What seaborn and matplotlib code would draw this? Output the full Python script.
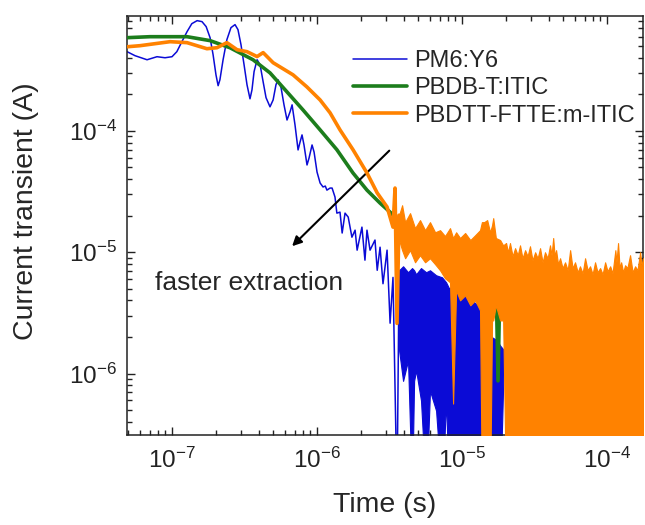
import matplotlib
matplotlib.use("Agg")
import matplotlib.pyplot as plt
import seaborn as sns
import pandas as pd

# PM6:Y6 (blue) - ringing decay
pm6_t = [4.90e-8, 5.56e-8, 6.73e-8, 7.88e-8, 8.95e-8, 1.0e-7, 1.08e-7, 1.17e-7, 1.27e-7, 1.37e-7,
         1.49e-7, 1.61e-7, 1.72e-7, 1.83e-7, 1.92e-7, 2.01e-7, 2.08e-7, 2.14e-7, 2.25e-7, 2.39e-7,
         2.55e-7, 2.72e-7, 2.85e-7, 2.99e-7, 3.14e-7, 3.29e-7, 3.45e-7, 3.56e-7, 3.68e-7, 3.86e-7,
         4.05e-7, 4.25e-7, 4.45e-7, 4.74e-7, 4.98e-7, 5.21e-7, 5.38e-7, 5.65e-7, 5.92e-7, 6.21e-7,
         6.52e-7, 6.73e-7, 7.05e-7, 7.40e-7, 7.64e-7, 7.88e-7, 8.13e-7, 8.53e-7, 8.81e-7, 9.24e-7,
         9.54e-7, 1.0e-6, 1.05e-6, 1.10e-6, 1.14e-6, 1.17e-6, 1.23e-6, 1.27e-6, 1.33e-6, 1.37e-6,
         1.44e-6, 1.49e-6, 1.56e-6, 1.64e-6, 1.74e-6, 1.83e-6, 1.89e-6, 2.04e-6, 2.14e-6, 2.21e-6,
         2.32e-6, 2.51e-6, 2.6e-6, 2.72e-6, 2.85e-6, 3.04e-6, 3.19e-6, 3.34e-6, 3.56e-6, 3.68e-6]
pm6_i = [4.50e-4, 4.17e-4, 3.86e-4, 4.09e-4, 4.01e-4, 4.09e-4, 4.50e-4, 5.44e-4, 6.58e-4, 7.66e-4,
         8.11e-4, 7.96e-4, 7.24e-4, 5.87e-4, 4.25e-4, 2.90e-4, 2.36e-4, 2.64e-4, 3.86e-4, 5.65e-4,
         7.10e-4, 7.52e-4, 6.84e-4, 5.14e-4, 3.51e-4, 2.40e-4, 1.84e-4, 2.18e-4, 3.08e-4, 3.86e-4,
         3.51e-4, 2.54e-4, 1.88e-4, 1.58e-4, 1.80e-4, 2.40e-4, 2.64e-4, 2.27e-4, 1.64e-4, 1.23e-4,
         1.44e-4, 1.64e-4, 1.12e-4, 6.97e-5, 8.11e-5, 9.27e-5, 7.66e-5, 5.24e-5, 5.98e-5, 7.66e-5,
         6.70e-5, 4.58e-5, 3.72e-5, 3.45e-5, 3.51e-5, 3.25e-5, 3.38e-5, 3.38e-5, 2.85e-5, 2.1e-5,
         2.14e-5, 1.44e-5, 2.1e-5, 1.95e-5, 1.33e-5, 1.52e-5, 1.04e-5, 1.61e-5, 8.6e-6, 1.52e-5,
         1.04e-5, 1.26e-5, 7.1e-6, 1.1e-5, 5.5e-6, 1.04e-5, 2.6e-6, 6.2e-6, 1e-7, 7.1e-6]
# PM6:Y6 dense noisy tail: upper / lower edge of the scribble (1e-7 = below the axis)
pm6_band_t = [3.68e-6, 3.92e-6, 4.24e-6, 4.52e-6, 4.67e-6, 4.82e-6, 5.21e-6, 5.65e-6, 6.01e-6, 6.62e-6,
              7.28e-6, 7.76e-6, 8.13e-6, 8.95e-6, 9.69e-6, 1.07e-5, 1.17e-5, 1.29e-5, 1.35e-5, 1.42e-5,
              1.51e-5, 1.61e-5, 1.74e-5, 1.83e-5, 1.95e-5]
pm6_band_hi = [7.1e-6, 7.66e-6, 6.84e-6, 7.4e-6, 7.1e-6, 6.58e-6, 7.4e-6, 6.84e-6, 7.1e-6, 6.46e-6,
               6.21e-6, 5.65e-6, 5.04e-6, 5.33e-6, 4.85e-6, 4.67e-6, 4.01e-6, 3.65e-6, 3.32e-6, 2.74e-6,
               2.27e-6, 1.99e-6, 1.88e-6, 1.7e-6, 1.55e-6]
pm6_band_lo = [1.55e-6, 8.7e-7, 1.28e-6, 1e-7, 8.7e-7, 1.06e-6, 6.0e-7, 1e-7, 7.2e-7, 4.95e-7,
               1e-7, 6.0e-7, 1e-7, 1e-7, 1e-7, 1e-7, 1e-7, 1e-7, 1e-7, 1e-7,
               1e-7, 1e-7, 1e-7, 1e-7, 1.55e-6]

# PBDB-T:ITIC (green)
pbdb_t = [4.9e-8, 7.05e-8, 1.27e-7, 1.83e-7, 2.51e-7, 3.62e-7, 4.74e-7, 6.2e-7, 8.0e-7, 1.05e-6,
          1.37e-6, 1.77e-6, 2.21e-6, 2.72e-6, 3.19e-6, 3.73e-6, 5.13e-6, 8.26e-6, 1.33e-5, 1.71e-5,
          1.77e-5, 1.83e-5, 2.51e-5, 6.5e-5, 1.77e-4]
pbdb_i = [5.87e-4, 5.98e-4, 5.98e-4, 5.55e-4, 4.85e-4, 3.86e-4, 3.01e-4, 2.1e-4, 1.49e-4, 1.02e-4,
          7.0e-5, 4.5e-5, 3.25e-5, 2.54e-5, 2.14e-5, 1.77e-5, 1.38e-5, 1.04e-5, 8.26e-6, 7.4e-6,
          8.7e-7, 7.1e-6, 5.87e-6, 4.85e-6, 4.41e-6]

# PBDTT-FTTE:m-ITIC (orange)
fte_t = [4.9e-8, 6.0e-8, 9.7e-8, 1.27e-7, 1.74e-7, 2.04e-7, 2.39e-7, 2.81e-7, 3.29e-7, 3.86e-7,
         4.25e-7, 4.98e-7, 6.83e-7, 8.5e-7, 1.05e-6, 1.23e-6, 1.44e-6, 1.77e-6, 2.21e-6, 2.6e-6,
         3.04e-6, 3.34e-6, 3.45e-6, 3.56e-6, 3.68e-6]
fte_i = [4.94e-4, 5.04e-4, 5.44e-4, 5.34e-4, 4.76e-4, 4.85e-4, 5.34e-4, 4.67e-4, 4.5e-4, 4.1e-4,
         4.42e-4, 3.65e-4, 2.9e-4, 2.31e-4, 1.8e-4, 1.41e-4, 1.02e-4, 7.0e-5, 4.5e-5, 3.08e-5,
         2.36e-5, 1.61e-5, 3.38e-5, 2.59e-6, 2.02e-5]
# noisy part with a visible lower edge
fte_band_t = [3.68e-6, 3.86e-6, 4.05e-6, 4.38e-6, 4.74e-6, 5.13e-6, 5.56e-6, 6.01e-6, 6.52e-6, 7.05e-6,
              7.63e-6, 8.26e-6, 8.67e-6, 9.10e-6, 9.69e-6, 1.05e-5, 1.14e-5, 1.23e-5, 1.33e-5, 1.37e-5,
              1.42e-5, 1.49e-5, 1.56e-5, 1.61e-5, 1.64e-5, 1.71e-5, 1.83e-5, 1.92e-5, 2.01e-5]
fte_band_hi = [2.02e-5, 2.44e-5, 1.77e-5, 2.1e-5, 1.58e-5, 1.84e-5, 1.52e-5, 1.77e-5, 1.46e-5, 1.52e-5,
               1.36e-5, 1.58e-5, 1.31e-5, 1.46e-5, 1.31e-5, 1.44e-5, 1.26e-5, 1.38e-5, 1.52e-5, 1.77e-5,
               1.77e-5, 1.84e-5, 1.46e-5, 1.67e-5, 1.91e-5, 1.31e-5, 1.26e-5, 1.14e-5, 1.19e-5]
fte_band_lo = [1.26e-5, 1.04e-5, 8.92e-6, 1.04e-5, 8.26e-6, 9.45e-6, 8.26e-6, 8.92e-6, 7.96e-6, 7.1e-6,
               6.1e-6, 5.65e-6, 5.65e-7, 4.85e-6, 4.01e-6, 4.41e-6, 3.65e-6, 4.01e-6, 3.32e-6, 1e-7,
               1e-7, 1e-7, 1e-7, 2.74e-6, 2.74e-6, 3.65e-6, 2.74e-6, 2.74e-6, 1e-7]
# noisy part that reaches below the axis everywhere: only the upper edge
fte_tail_t = [2.01e-5, 2.075e-5, 2.14e-5, 2.23e-5, 2.32e-5, 2.42e-5, 2.51e-5, 2.61e-5, 2.72e-5, 2.83e-5,
              2.94e-5, 3.06e-5, 3.19e-5, 3.32e-5, 3.45e-5, 3.59e-5, 3.73e-5, 3.89e-5, 4.04e-5, 4.14e-5,
              4.25e-5, 4.35e-5, 4.45e-5, 4.59e-5, 4.74e-5, 4.93e-5, 5.13e-5, 5.35e-5, 5.56e-5, 5.78e-5,
              6.01e-5, 6.27e-5, 6.5e-5, 6.78e-5, 7.05e-5, 7.34e-5, 7.63e-5, 7.94e-5, 8.26e-5, 8.59e-5,
              8.95e-5, 9.31e-5, 9.69e-5, 1.007e-4, 1.05e-4, 1.09e-4, 1.14e-4, 1.16e-4, 1.19e-4, 1.22e-4,
              1.25e-4, 1.29e-4, 1.33e-4, 1.38e-4, 1.44e-4, 1.50e-4, 1.56e-4, 1.62e-4, 1.69e-4, 1.73e-4,
              1.77e-4]
fte_tail_hi = [1.19e-5, 1.0e-5, 1.19e-5, 9.27e-6, 1.08e-5, 9.45e-6, 1.14e-5, 8.92e-6, 1.04e-5, 9.27e-6,
               1.12e-5, 8.59e-6, 1.0e-5, 8.92e-6, 1.08e-5, 8.26e-6, 1.0e-5, 8.92e-6, 1.14e-5, 9.45e-6,
               1.31e-5, 9.27e-6, 1.04e-5, 7.96e-6, 8.92e-6, 7.4e-6, 8.26e-6, 7.1e-6, 1.04e-5, 7.4e-6,
               8.26e-6, 6.84e-6, 7.66e-6, 6.70e-6, 8.92e-6, 7.1e-6, 7.66e-6, 6.58e-6, 8.26e-6, 6.84e-6,
               7.4e-6, 6.58e-6, 8.26e-6, 6.97e-6, 7.66e-6, 6.70e-6, 1.04e-5, 8.26e-6, 1.19e-5, 7.4e-6,
               8.26e-6, 6.84e-6, 7.81e-6, 7.4e-6, 9.45e-6, 6.84e-6, 7.66e-6, 7.1e-6, 1.0e-5, 7.66e-6,
               8.92e-6]
floor = 1e-7

labels = ["PM6:Y6", "PBDB-T:ITIC", "PBDTT-FTTE:m-ITIC"]
colors = ["#0B0BD6", "#1C7D1C", "#FF8200"]

sns.set_style("ticks")
plt.rcParams["font.family"] = ["Liberation Sans", "DejaVu Sans"]
plt.rcParams["mathtext.fontset"] = "custom"
plt.rcParams["mathtext.rm"] = "Liberation Sans"
plt.rcParams["mathtext.default"] = "regular"

fig = plt.figure(figsize=(6.45, 5.25), dpi=100)
ax = fig.add_axes([0.197, 0.171, 0.80, 0.799])

pm6 = pd.DataFrame({"t": pm6_t, "i": pm6_i})
pbdb = pd.DataFrame({"t": pbdb_t, "i": pbdb_i})
fte = pd.DataFrame({"t": fte_t, "i": fte_i})

sns.lineplot(data=pm6, x="t", y="i", sort=False, estimator=None, color=colors[0], lw=1.1,
             label=labels[0], ax=ax, zorder=2)
ax.fill_between(pm6_band_t, pm6_band_lo, pm6_band_hi, color=colors[0], lw=0.8, zorder=2)

sns.lineplot(data=pbdb, x="t", y="i", sort=False, estimator=None, color=colors[1], lw=2.6,
             label=labels[1], ax=ax, zorder=3)

sns.lineplot(data=fte, x="t", y="i", sort=False, estimator=None, color=colors[2], lw=2.6,
             label=labels[2], ax=ax, zorder=4)
ax.fill_between(fte_band_t, fte_band_lo, fte_band_hi, color=colors[2], lw=0.8, zorder=4)
ax.fill_between(fte_tail_t, floor, fte_tail_hi, color=colors[2], lw=0.8, zorder=4)

ax.set_xscale("log")
ax.set_yscale("log")
ax.set_xlim(4.9e-8, 1.77e-4)
ax.set_ylim(3.1e-7, 8.9e-4)

ax.tick_params(which="both", direction="in", top=True, right=True, width=1.0, colors="#222222")
ax.tick_params(which="major", length=6, labelsize=17.5, pad=7)
ax.tick_params(which="minor", length=3.5)
ax.tick_params(axis="x", which="major", pad=9)
for s in ax.spines.values():
    s.set_linewidth(1.1)
    s.set_color("#222222")

ax.set_xlabel("Time (s)", fontsize=20.5, labelpad=14)
ax.set_ylabel("Current transient (A)", fontsize=20.5)
ax.yaxis.set_label_coords(-0.170, 0.535)

ax.annotate("", xy=(0.316, 0.446), xytext=(0.512, 0.683), xycoords="axes fraction",
            arrowprops=dict(arrowstyle="-|>", color="black", lw=1.5, mutation_scale=14))
ax.text(0.054, 0.363, "faster extraction", transform=ax.transAxes, fontsize=19,
        ha="left", va="center")

ax.legend(loc="upper left", bbox_to_anchor=(0.438, 0.918), frameon=False, fontsize=17,
          handlelength=2.27, handletextpad=0.3, labelspacing=0.22, borderpad=0, borderaxespad=0)

fig.savefig("out.png", dpi=100)
